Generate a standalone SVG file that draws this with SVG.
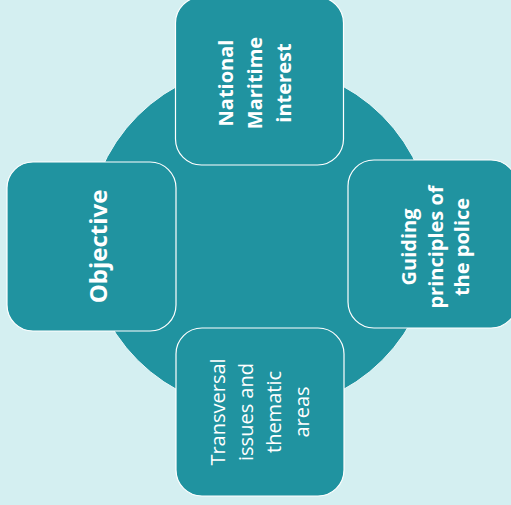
<svg xmlns="http://www.w3.org/2000/svg" width="511" height="505" viewBox="0 0 511 505">
<style>
.box{fill:#2093a0;stroke:#ffffff;stroke-width:1.2}
.t{fill:#ffffff;font-family:"Open Sans","Liberation Sans",sans-serif;text-anchor:middle}
.b{font-weight:bold;font-size:20px}
.r{font-size:20px}
</style>
<rect width="511" height="505" fill="#d4eff1"/>
<g id="hub">
<circle cx="260" cy="238" r="173" fill="#2093a0" stroke="#e8f7f8" stroke-width="1"/>
</g>
<g id="connectors"></g>
<g id="node-top">
<rect class="box" x="175.5" y="-3" width="168" height="168" rx="26"/>
<text class="t b" transform="rotate(-90)"><tspan x="-83" y="233">National</tspan><tspan x="-83" y="262">Maritime</tspan><tspan x="-83" y="291">interest</tspan></text>
</g>
<g id="node-left">
<rect class="box" x="7" y="162" width="169" height="169" rx="26"/>
<text class="t b" style="font-size:24px" transform="rotate(-90)"><tspan x="-246.5" y="107">Objective</tspan></text>
</g>
<g id="node-right">
<rect class="box" x="348" y="160" width="169" height="168" rx="26"/>
<text class="t b" transform="rotate(-90)"><tspan x="-247" y="416">Guiding</tspan><tspan x="-247" y="443">principles of</tspan><tspan x="-247" y="469">the police</tspan></text>
</g>
<g id="node-bottom">
<rect class="box" x="176" y="328" width="168" height="168" rx="26"/>
<text class="t r" transform="rotate(-90)"><tspan x="-412" y="225">Transversal</tspan><tspan x="-412" y="253">issues and</tspan><tspan x="-412" y="281">thematic</tspan><tspan x="-412" y="309">areas</tspan></text>
</g>
</svg>
